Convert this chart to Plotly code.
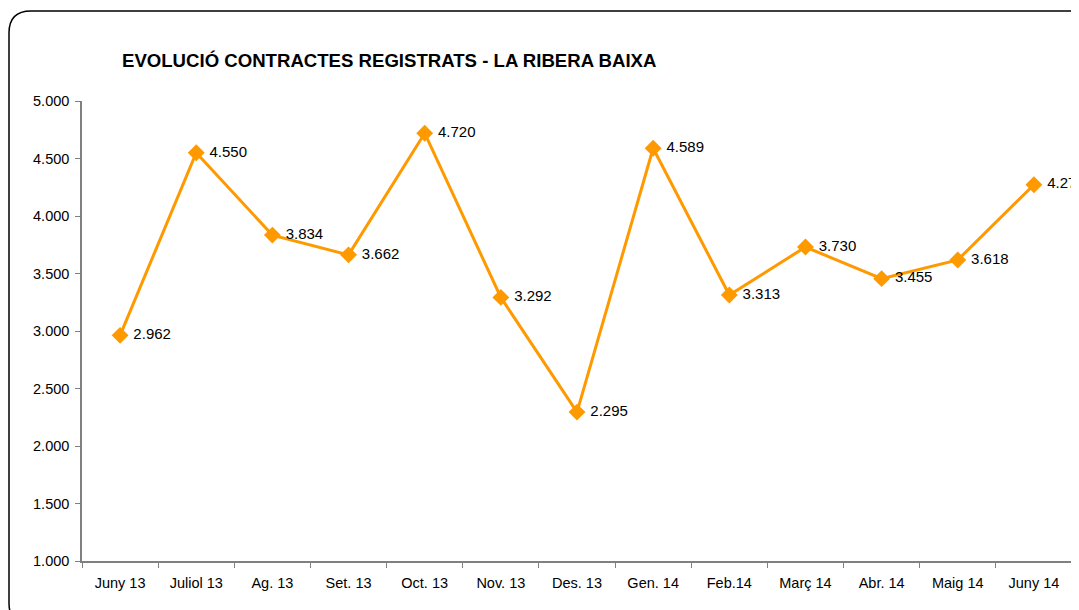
import plotly.graph_objects as go

categories = ["Juny 13", "Juliol 13", "Ag. 13", "Set. 13", "Oct. 13", "Nov. 13", "Des. 13",
              "Gen. 14", "Feb.14", "Març 14", "Abr. 14", "Maig 14", "Juny 14"]
contractes = [2962, 4550, 3834, 3662, 4720, 3292, 2295, 4589, 3313, 3730, 3455, 3618, 4272]
y_ticks = [1000, 1500, 2000, 2500, 3000, 3500, 4000, 4500, 5000]

# page body has an 8px offset; figure sized so it fills the window
OFF = 8
W, H = 1079 - OFF, 610 - OFF
ML, MR, MT, MB = 82 - OFF, 7, 101 - OFF, 49
PW, PH = W - ML - MR, H - MT - MB

def px(x):
    return (x - OFF - ML) / PW

def py(y):
    return (H - MB - (y - OFF)) / PH

FONT = "Liberation Sans, Arial, sans-serif"
ORANGE = "#FF9900"

fig = go.Figure()
fig.add_trace(go.Scatter(
    x=categories, y=contractes, mode="lines+markers+text",
    line=dict(color=ORANGE, width=3),
    marker=dict(symbol="diamond", size=13, color=ORANGE),
    text=[" " + f"{v:,}".replace(",", ".") for v in contractes],
    textposition="middle right",
    textfont=dict(family=FONT, size=15, color="black"),
    cliponaxis=False, showlegend=False, hoverinfo="skip",
))

# rounded chart border (pixel geometry converted to paper coords)
r = 22
L, T, R, B = 9, 11, 1100, 625
path = (f"M {px(L)},{py(T + r)} Q {px(L)},{py(T)} {px(L + r)},{py(T)} "
        f"L {px(R)},{py(T)} L {px(R)},{py(B)} L {px(L + r)},{py(B)} "
        f"Q {px(L)},{py(B)} {px(L)},{py(B - r)} Z")
fig.add_shape(type="path", xref="paper", yref="paper", path=path,
              line=dict(color="black", width=1.5), fillcolor="rgba(0,0,0,0)", layer="below")

fig.update_layout(
    width=W, height=H,
    margin=dict(l=ML, r=MR, t=MT, b=MB),
    paper_bgcolor="white", plot_bgcolor="white",
    separators=",.",
    font=dict(family=FONT, size=14.5, color="black"),
    title=dict(text="<b>EVOLUCIÓ CONTRACTES REGISTRATS - LA RIBERA BAIXA</b>",
               xref="container", yref="container", x=(122 - OFF) / W, xanchor="left",
               y=1 - (60 - OFF) / H, yanchor="middle",
               font=dict(family=FONT, size=18.6, color="black")),
    xaxis=dict(type="category", tickson="boundaries", ticks="outside", ticklen=5,
               tickcolor="#808080", showline=True, linecolor="#808080", linewidth=2,
               showgrid=False, range=[-0.5, 12.5], tickfont=dict(size=14.5),
               ticklabelstandoff=8),
    yaxis=dict(range=[1000, 5000], tickvals=y_ticks, tickformat=",.0f",
               ticks="outside", ticklen=5, tickcolor="#808080",
               showline=True, linecolor="#808080", linewidth=1.5,
               showgrid=False, zeroline=False, tickfont=dict(size=14.5),
               ticklabelstandoff=3),
)

fig.write_html("out.html")
